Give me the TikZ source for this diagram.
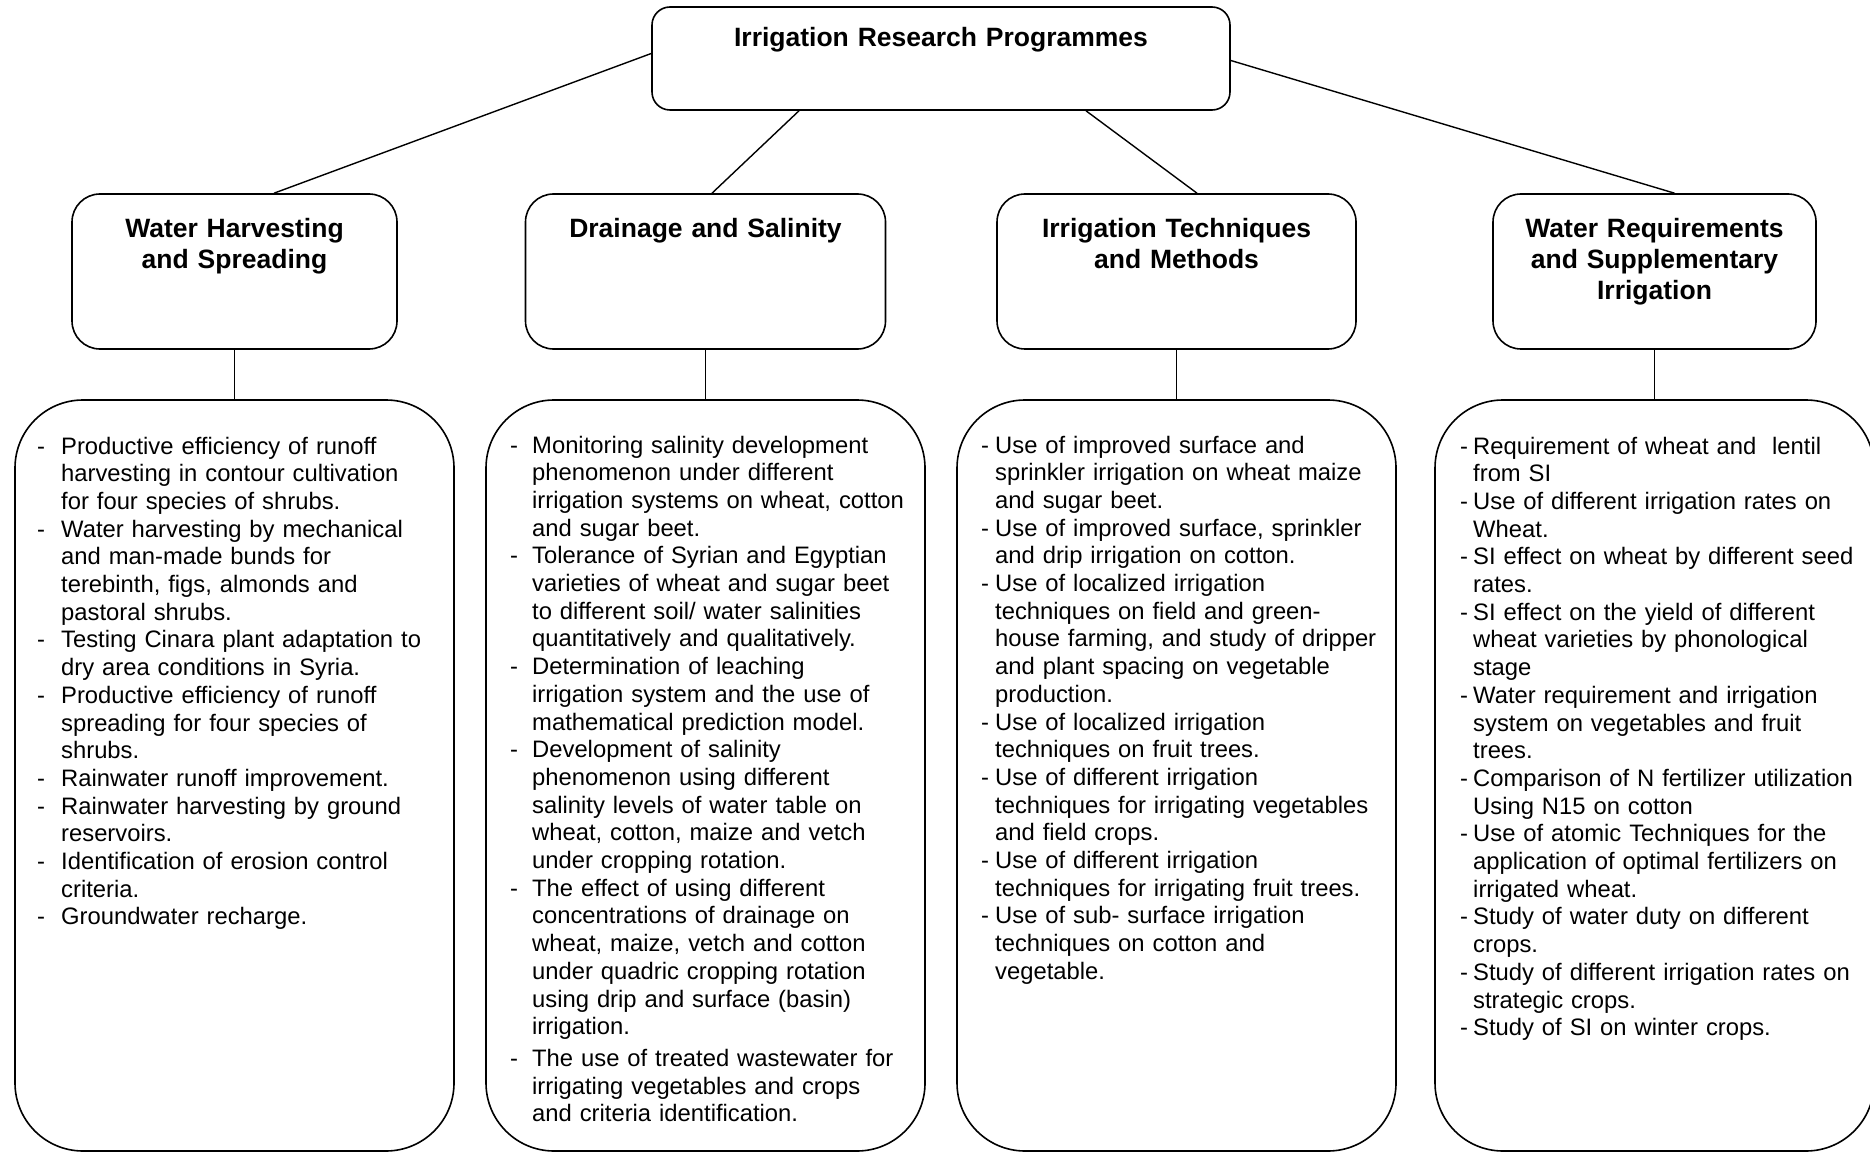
\documentclass[tikz,border=0pt]{standalone}
\usepackage{fontspec}
\setmainfont{Liberation Sans}
\newcommand\lstitem[2]{\par\hangindent=#1\hangafter=1\noindent\makebox[#1][l]{-}#2}
\tikzset{
  topbox/.style={draw, line width=1.6pt, rounded corners=18pt, minimum width=578pt, minimum height=103pt, inner sep=0pt},
  midbox/.style={draw, line width=1.6pt, rounded corners=28pt, minimum height=155pt, inner sep=0pt},
  lowbox/.style={draw, line width=1.6pt, rounded corners=68pt, minimum width=439pt, minimum height=751pt, inner sep=0pt},
  conn/.style={line width=1.4pt},
  ttl/.style={font=\bfseries\fontsize{26.5}{31}\selectfont, text width=340pt, align=center, anchor=base, inner sep=0pt},
  body/.style={font=\fontsize{23.8}{27.7}\selectfont, text width=420pt, anchor=base west, inner sep=0pt}
}
\begin{document}
\begin{tikzpicture}[x=1pt,y=-1pt]
\clip (0,0) rectangle (1870,1155);
\fill[white] (0,0) rectangle (1870,1155);
% boxes
\node[topbox] (top) at (941,58.5) {};
\node[midbox, minimum width=325pt] (b1) at (234.5,271.5) {};
\node[midbox, minimum width=360pt] (b2) at (705.5,271.5) {};
\node[midbox, minimum width=359pt] (b3) at (1176.5,271.5) {};
\node[midbox, minimum width=323pt] (b4) at (1654.5,271.5) {};
\node[lowbox] (l1) at (234.5,775.5) {};
\node[lowbox] (l2) at (705.5,775.5) {};
\node[lowbox] (l3) at (1176.5,775.5) {};
\node[lowbox] (l4) at (1654.5,775.5) {};
% connectors
\draw[conn] ([yshift=5pt]top.west) -- ([xshift=39.5pt]b1.north);
\draw[conn] ([xshift=-142pt]top.south) -- ([xshift=6.5pt]b2.north);
\draw[conn] ([xshift=145pt]top.south) -- ([xshift=20.5pt]b3.north);
\draw[conn] ([yshift=-2pt]top.east) -- ([xshift=20pt]b4.north);
\draw[conn] (b1.south) -- (l1.north);
\draw[conn] (b2.south) -- (l2.north);
\draw[conn] (b3.south) -- (l3.north);
\draw[conn] (b4.south) -- (l4.north);
% titles
\node[ttl, text width=560pt] (t0) at (941,47) {Irrigation Research Programmes};
\node[ttl] (t1) at (234.5,238) {Water Harvesting\\and Spreading};
\node[ttl] (t2) at (705.5,238) {Drainage and Salinity};
\node[ttl] (t3) at (1176.5,238) {Irrigation Techniques\\and Methods};
\node[ttl] (t4) at (1654.5,238) {Water Requirements\\and Supplementary\\Irrigation};
% lists
\node[body] (x1) at (37,426.3) {%
\lstitem{24pt}{Productive efficiency of runoff\newline harvesting in contour cultivation\newline for four species of shrubs.}
\lstitem{24pt}{Water harvesting by mechanical\newline and man-made bunds for\newline terebinth, figs, almonds and\newline pastoral shrubs.}
\lstitem{24pt}{Testing Cinara plant adaptation to\newline dry area conditions in Syria.}
\lstitem{24pt}{Productive efficiency of runoff\newline spreading for four species of\newline shrubs.}
\lstitem{24pt}{Rainwater runoff improvement.}
\lstitem{24pt}{Rainwater harvesting by ground\newline reservoirs.}
\lstitem{24pt}{Identification of erosion control\newline criteria.}
\lstitem{24pt}{Groundwater recharge.}\par};
\node[body] (x2) at (510,425.3) {%
\lstitem{22pt}{Monitoring salinity development\newline phenomenon under different\newline irrigation systems on wheat, cotton\newline and sugar beet.}
\lstitem{22pt}{Tolerance of Syrian and Egyptian\newline varieties of wheat and sugar beet\newline to different soil/ water salinities\newline quantitatively and qualitatively.}
\lstitem{22pt}{Determination of leaching\newline irrigation system and the use of\newline mathematical prediction model.}
\lstitem{22pt}{Development of salinity\newline phenomenon using different\newline salinity levels of water table on\newline wheat, cotton, maize and vetch\newline under cropping rotation.}
\lstitem{22pt}{The effect of using different\newline concentrations of drainage on\newline wheat, maize, vetch and cotton\newline under quadric cropping rotation\newline using drip and surface (basin)\newline irrigation.}
\par\vspace{4pt}
\lstitem{22pt}{The use of treated wastewater for\newline irrigating vegetables and crops\newline and criteria identification.}\par};
\node[body] (x3) at (981,425.3) {%
\lstitem{14pt}{Use of improved surface and\newline sprinkler irrigation on wheat maize\newline and sugar beet.}
\lstitem{14pt}{Use of improved surface, sprinkler\newline and drip irrigation on cotton.}
\lstitem{14pt}{Use of localized irrigation\newline techniques on field and green-\newline house farming, and study of dripper\newline and plant spacing on vegetable\newline production.}
\lstitem{14pt}{Use of localized irrigation\newline techniques on fruit trees.}
\lstitem{14pt}{Use of different irrigation\newline techniques for irrigating vegetables\newline and field crops.}
\lstitem{14pt}{Use of different irrigation\newline techniques for irrigating fruit trees.}
\lstitem{14pt}{Use of sub- surface irrigation\newline techniques on cotton and\newline vegetable.}\par};
\node[body] (x4) at (1460,426.3) {%
\lstitem{13pt}{Requirement of wheat and \ lentil\newline from SI}
\lstitem{13pt}{Use of different irrigation rates on\newline Wheat.}
\lstitem{13pt}{SI effect on wheat by different seed\newline rates.}
\lstitem{13pt}{SI effect on the yield of different\newline wheat varieties by phonological\newline stage}
\lstitem{13pt}{Water requirement and irrigation\newline system on vegetables and fruit\newline trees.}
\lstitem{13pt}{Comparison of N fertilizer utilization\newline Using N15 on cotton}
\lstitem{13pt}{Use of atomic Techniques for the\newline application of optimal fertilizers on\newline irrigated wheat.}
\lstitem{13pt}{Study of water duty on different\newline crops.}
\lstitem{13pt}{Study of different irrigation rates on\newline strategic crops.}
\lstitem{13pt}{Study of SI on winter crops.}\par};
\end{tikzpicture}
\end{document}
